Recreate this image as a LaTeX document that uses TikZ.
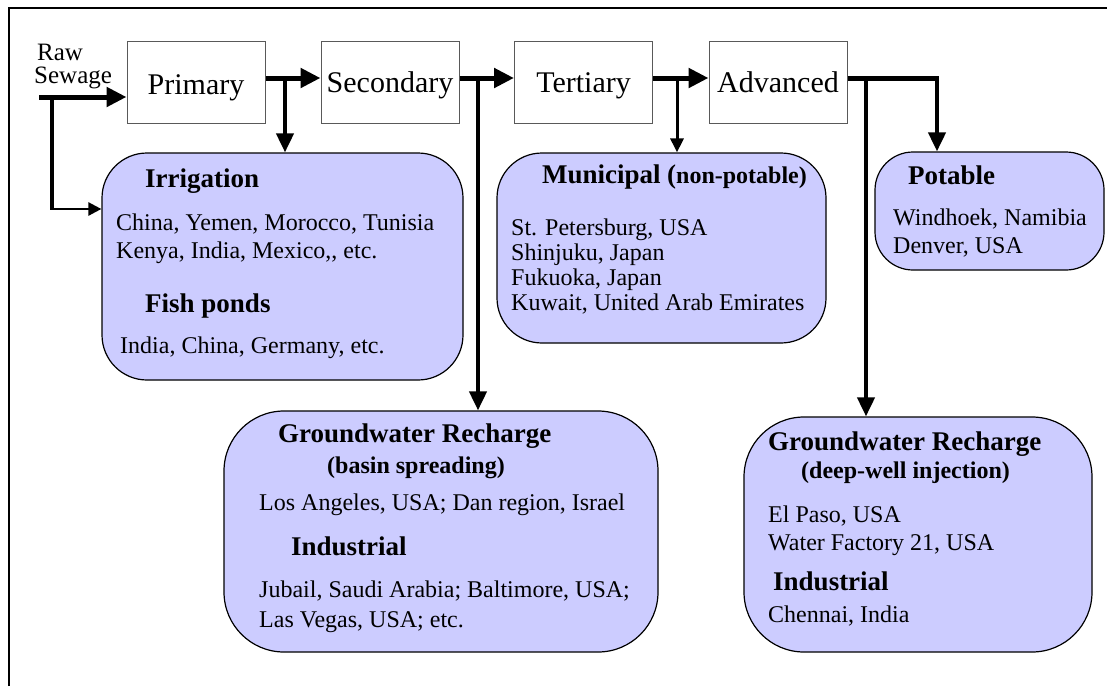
\documentclass[tikz,border=0pt]{standalone}
\usepackage{fontspec}
\setmainfont{Liberation Serif}
\usepackage{xcolor}
\usetikzlibrary{arrows.meta, positioning, calc}
\definecolor{lavender}{HTML}{CCCCFF}

\begin{document}
\begin{tikzpicture}[
        x=1pt, y=-1pt,
        stage/.style={rectangle, draw=black!65, line width=1pt, minimum width=138pt, minimum height=82pt, inner sep=0pt, text height=21pt, text depth=0pt, font=\fontsize{30}{34}\selectfont},
        reuse/.style={rectangle, draw, fill=lavender, line width=1.2pt, inner sep=0pt},
        head/.style={anchor=base west, inner sep=0pt, font=\fontsize{27}{30}\selectfont\bfseries},
        sub/.style={anchor=base west, inner sep=0pt, font=\fontsize{24}{28}\selectfont\bfseries},
        site/.style={anchor=base west, inner sep=0pt, font=\fontsize{24}{28}\selectfont},
        flow/.style={draw, line width=5pt, -{Triangle[length=20pt, width=19pt]}},
        trunk/.style={draw, line width=5pt},
        drop/.style={draw, line width=4pt, -{Triangle[length=19pt, width=17pt]}},
        thindrop/.style={draw, line width=3pt, -{Triangle[length=14pt, width=13pt]}},
        side/.style={draw, line width=2.5pt, -{Triangle[length=13pt, width=13pt]}}
    ]
    \useasboundingbox (0,0) rectangle (1107,686);
    \draw [line width=2.5pt] (9,686) -- (9,8) -- (1107,8);

    \node [stage] (primary) at (196,82) {\raisebox{-2pt}{Primary}};
    \node [stage] (secondary) at (390,82) {Secondary};
    \node [stage] (tertiary) at (583.5,82) {Tertiary};
    \node [stage] (advanced) at (778,82) {Advanced};

    \node [site, font=\fontsize{25}{28}\selectfont] (raw) at (37,60) {Raw};
    \node [site, font=\fontsize{25}{28}\selectfont] (sewage) at (34,83) {Sewage};

    \node [reuse, minimum width=361pt, minimum height=227pt, rounded corners=45pt] (irrig) at (282.5,266.5) {};
    \node [reuse, minimum width=329pt, minimum height=190pt, rounded corners=45pt] (muni) at (661.5,248) {};
    \node [reuse, minimum width=229pt, minimum height=118pt, rounded corners=38pt] (potable) at (989.5,211) {};
    \node [reuse, minimum width=434pt, minimum height=241pt, rounded corners=60pt] (gwa) at (441,531.5) {};
    \node [reuse, minimum width=348pt, minimum height=235pt, rounded corners=60pt] (gwb) at (918,534.5) {};

    \node [head] (irrighead) at (145,187) {Irrigation};
    \node [site] (irrig1) at (116,230) {China, Yemen, Morocco, Tunisia};
    \node [site] (irrig2) at (116,258) {Kenya, India, Mexico,{}, etc.};
    \node [head] (fishhead) at (145,312) {Fish ponds};
    \node [site] (fish1) at (120,353) {India, China, Germany, etc.};

    \node [head] (munihead) at (542,183) {Municipal};
    \node [sub] (munisub) at (667,183) {{\fontsize{27}{30}\selectfont(}non-potable)};
    \node [site] (muni1) at (511,235) {St. Petersburg, USA};
    \node [site] (muni2) at (511,260) {Shinjuku, Japan};
    \node [site] (muni3) at (511,285) {Fukuoka, Japan};
    \node [site] (muni4) at (511,310) {Kuwait, United Arab Emirates};

    \node [head] (pothead) at (908,184) {Potable};
    \node [site] (pot1) at (893,225) {Windhoek, Namibia};
    \node [site] (pot2) at (893,253) {Denver, USA};

    \node [head] (gwahead) at (278,442) {Groundwater Recharge};
    \node [sub] (gwasub) at (327,473) {(basin spreading)};
    \node [site] (gwa1) at (259,510) {Los Angeles, USA; Dan region, Israel};
    \node [head] (indahead) at (291,555) {Industrial};
    \node [site] (inda1) at (259,597) {Jubail, Saudi Arabia; Baltimore, USA;};
    \node [site] (inda2) at (259,627) {Las Vegas, USA; etc.};

    \node [head] (gwbhead) at (768,450) {Groundwater Recharge};
    \node [sub] (gwbsub) at (801,478) {(deep-well injection)};
    \node [site] (gwb1) at (768,522) {El Paso, USA};
    \node [site] (gwb2) at (768,550) {Water Factory 21, USA};
    \node [head] (indbhead) at (773,590) {Industrial};
    \node [site] (indb1) at (768,622) {Chennai, India};

    \coordinate (inlet) at (39,97);
    \coordinate (tap0) at (52,97);
    \coordinate (bend0) at (52,209);
    \coordinate (tap1) at (285,78);
    \coordinate (tap2) at (478,78);
    \coordinate (tap3) at (677,78);
    \coordinate (tap4) at (866,78);
    \coordinate (turn) at (937,78);

    \path [flow] (inlet) -- (inlet -| primary.west);
    \path [draw, line width=4pt] (tap0) -- ([yshift=-1.2pt]bend0);
    \path [side] ([xshift=-2pt]bend0) -- (bend0 -| irrig.west);

    \path [flow] ([yshift=4pt]primary.east) -- ([yshift=4pt]secondary.west);
    \path [flow] ([yshift=4pt]secondary.east) -- ([yshift=4pt]tertiary.west);
    \path [flow] ([yshift=4pt]tertiary.east) -- ([yshift=4pt]advanced.west);
    \path [trunk] ([yshift=4pt]advanced.east) -- ([xshift=2pt]turn);

    \path [drop] (tap1) -- (tap1 |- irrig.north);
    \path [drop] (tap2) -- (tap2 |- gwa.north);
    \path [thindrop] (tap3) -- (tap3 |- muni.north);
    \path [drop] (turn) -- (turn |- potable.north);
    \path [drop] (tap4) -- (tap4 |- gwb.north);

\end{tikzpicture}
\end{document}
